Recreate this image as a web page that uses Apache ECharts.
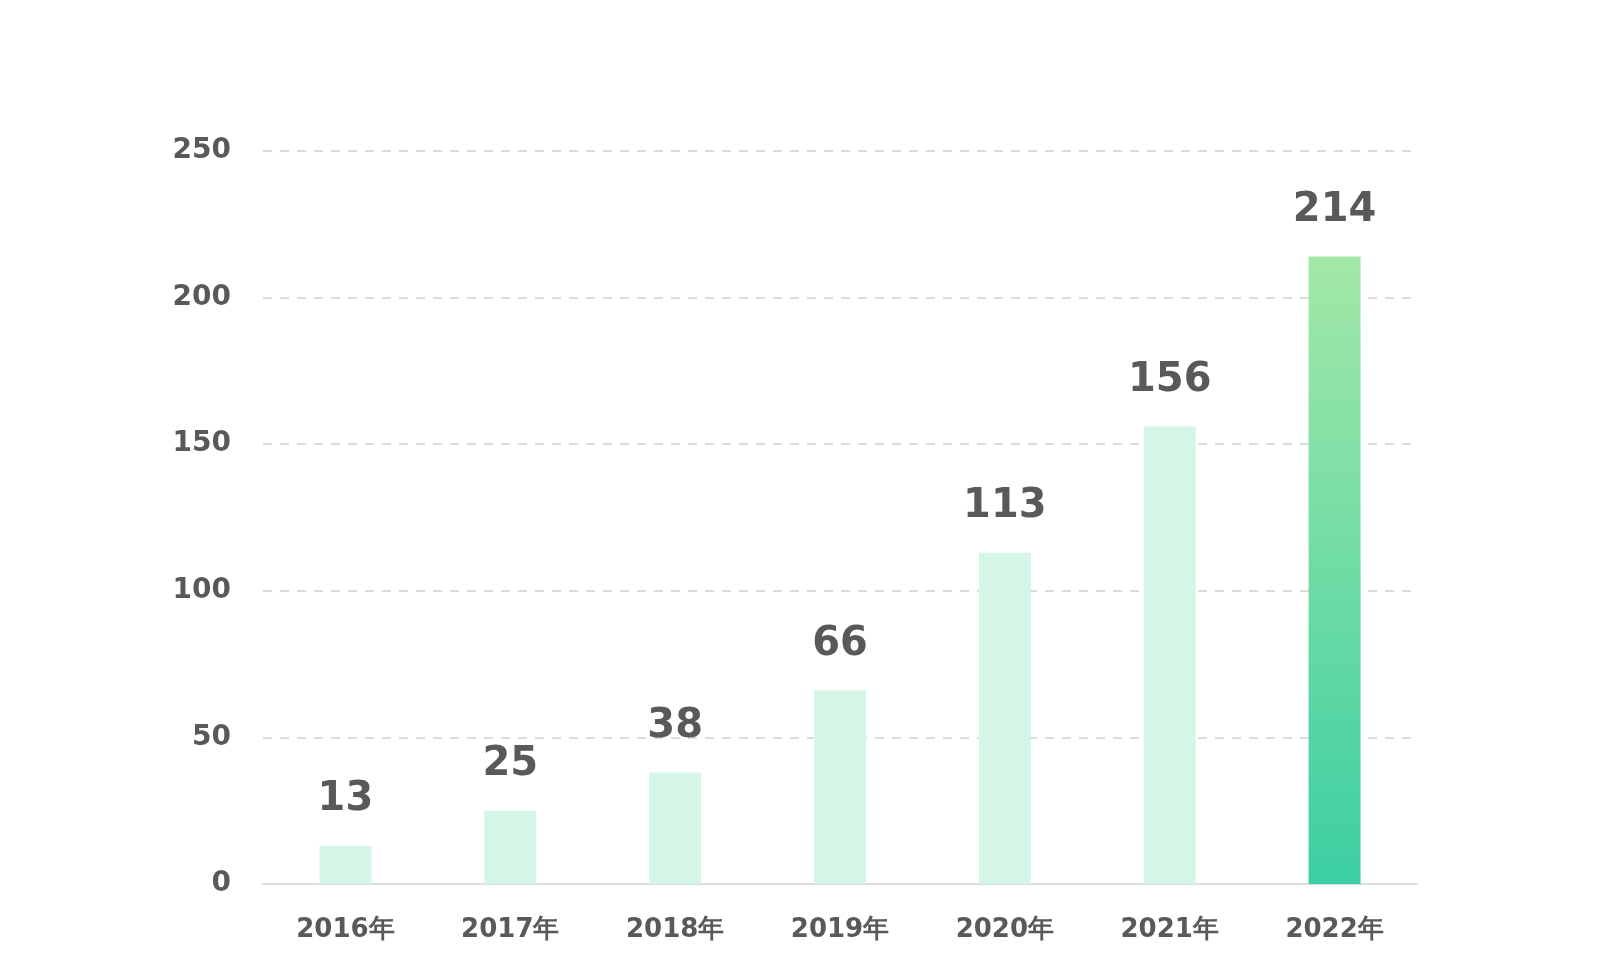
<!DOCTYPE html>
<html>
<head>
<meta charset="utf-8">
<script src="https://cdn.jsdelivr.net/npm/echarts@6/dist/echarts.min.js"></script>
<style>
html,body{margin:0;padding:0;background:#fff;}
#chart{width:1600px;height:972px;}
</style>
</head>
<body>
<div id="chart"></div>
<script>
const categories = ['2016年','2017年','2018年','2019年','2020年','2021年','2022年'];
const values = [13, 25, 38, 66, 113, 156, 214];
const yTicks = { min: 0, max: 250, interval: 50 };

const FONT = '"DejaVu Sans", Verdana, sans-serif';
const chart = echarts.init(document.getElementById('chart'));
const lastIdx = values.length - 1;

chart.setOption({
  backgroundColor: '#ffffff',
  animation: false,
  grid: { left: 263, right: 183, top: 151, bottom: 88, containLabel: false },
  xAxis: {
    type: 'category',
    data: categories,
    axisLine: { lineStyle: { color: '#dddddd', width: 2 } },
    axisTick: { show: false },
    axisLabel: { color: '#595959', fontFamily: FONT, fontWeight: 'bold', fontSize: 26, margin: 33 }
  },
  yAxis: {
    type: 'value',
    min: yTicks.min, max: yTicks.max, interval: yTicks.interval,
    axisLine: { show: false },
    axisTick: { show: false },
    axisLabel: { color: '#595959', fontFamily: FONT, fontWeight: 'bold', fontSize: 28, margin: 32 },
    splitLine: { lineStyle: { color: '#dbdbdb', width: 2, type: [9, 8] } }
  },
  series: [{
    type: 'bar',
    barWidth: 52,
    data: values.map((v, i) => ({
      value: v,
      itemStyle: {
        color: i === lastIdx
          ? new echarts.graphic.LinearGradient(0, 0, 0, 1, [
              { offset: 0, color: '#a3e8a7' },
              { offset: 1, color: '#3ccfa3' }
            ])
          : '#d4f6e6'
      }
    })),
    label: {
      show: true,
      position: 'top',
      distance: 26,
      color: '#595959',
      fontFamily: FONT,
      fontWeight: 'bold',
      fontSize: 40
    }
  }]
});
</script>
</body>
</html>
